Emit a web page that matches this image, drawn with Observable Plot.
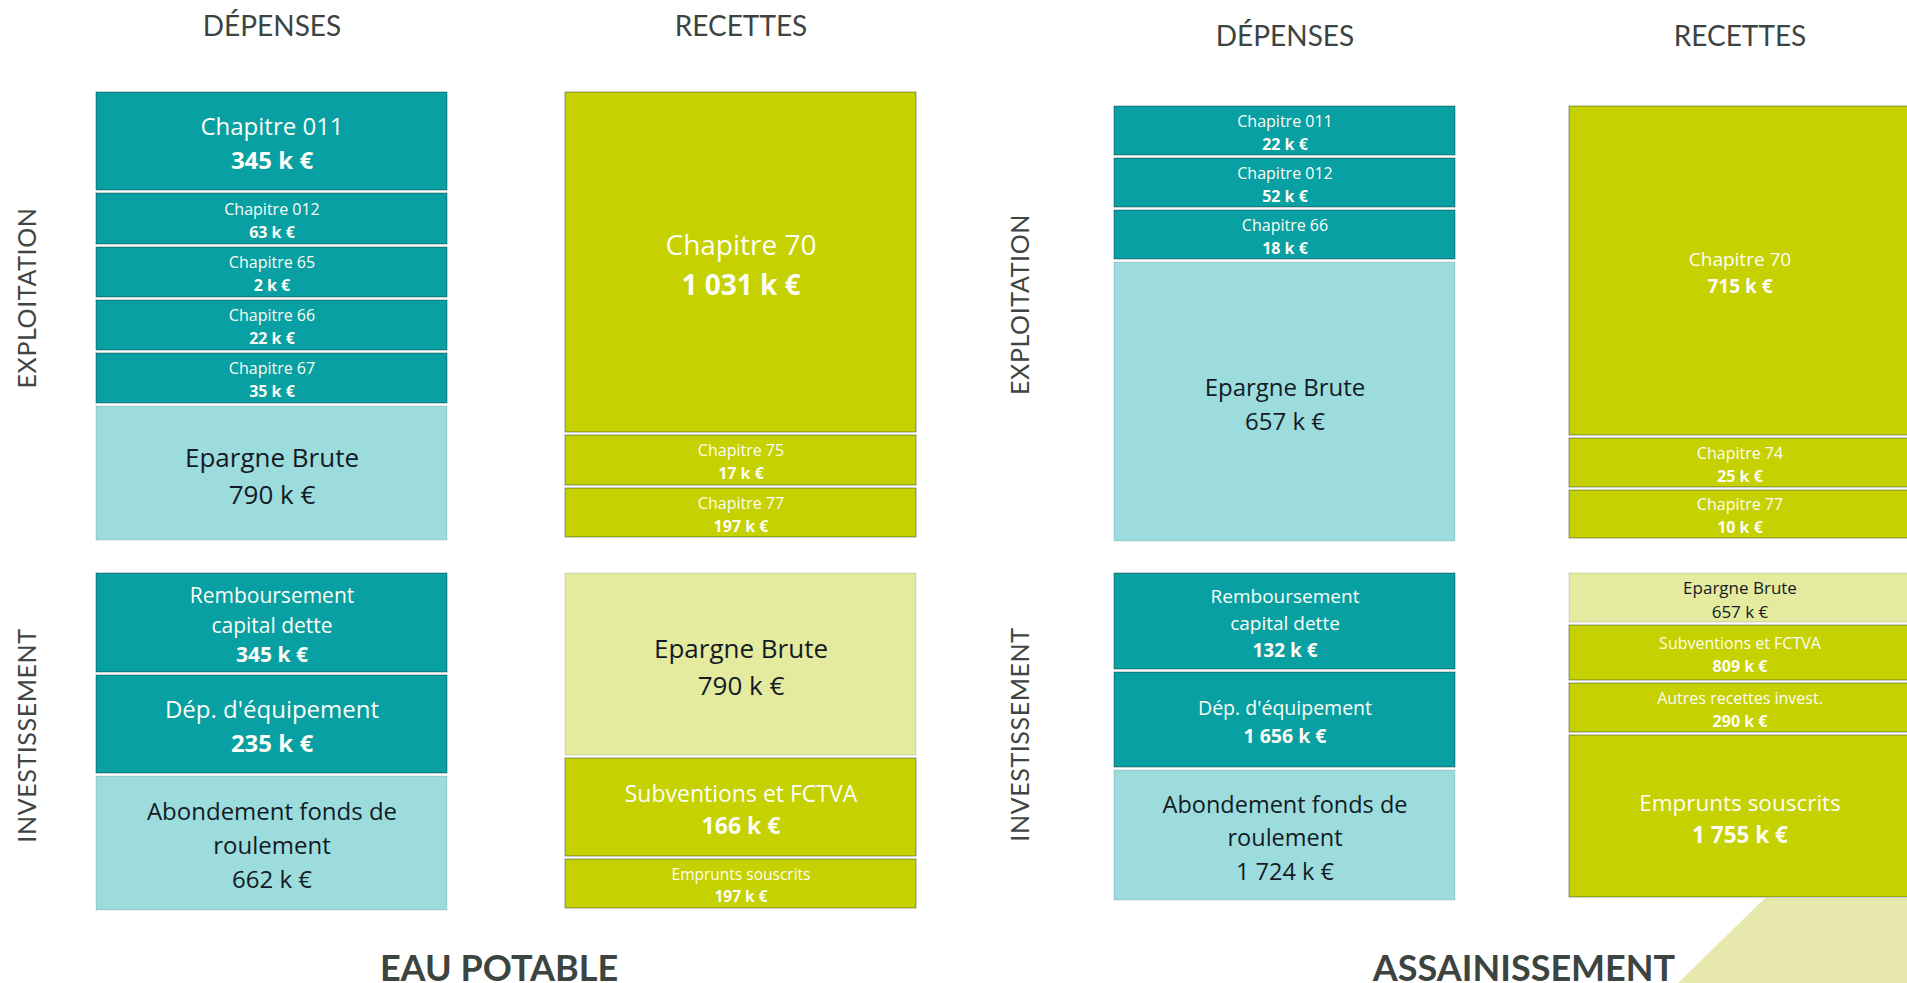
<!DOCTYPE html>
<html>
<head>
<meta charset="utf-8">
<script src="https://cdn.jsdelivr.net/npm/d3@7"></script>
<script src="https://cdn.jsdelivr.net/npm/@observablehq/plot@0.6"></script>
<style>
  html, body { margin: 0; padding: 0; background: #ffffff; overflow: hidden; }
  #stage { position: relative; width: 1907px; height: 983px; overflow: hidden; background: #ffffff; }
  .panel { position: absolute; }
  .panel svg { display: block; max-width: none; background: transparent; }
  .title { position: absolute; width: 600px; text-align: center; font-family: Lato, "DejaVu Sans", sans-serif;
           font-weight: 700; font-size: 36px; line-height: 36px; color: #3c4440; white-space: nowrap; }
  #deco { position: absolute; left: 1678px; top: 898px; width: 232px; height: 85px; background: #e6e9ab;
          clip-path: polygon(87px 0, 100% 0, 100% 100%, 0 100%); }
  .section-label text { letter-spacing: 0.6px; }
</style>
</head>
<body>
<div id="stage">
  <div id="deco"></div>
</div>
<script>
// ------------------------- DATA -------------------------
const budgets  = ["EAU POTABLE", "ASSAINISSEMENT"];
const sections = ["EXPLOITATION", "INVESTISSEMENT"];
const columns  = ["DÉPENSES", "RECETTES"];
// balancing items drawn in the light tone
const balanceItems = ["Epargne Brute", "Abondement fonds de\nroulement"];

// EAU POTABLE
const eauExploitDepLabels = ["Chapitre 011", "Chapitre 012", "Chapitre 65", "Chapitre 66", "Chapitre 67", "Epargne Brute"];
const eauExploitDepValues = [345, 63, 2, 22, 35, 790];
const eauExploitRecLabels = ["Chapitre 70", "Chapitre 75", "Chapitre 77"];
const eauExploitRecValues = [1031, 17, 197];
const eauInvestDepLabels  = ["Remboursement\ncapital dette", "Dép. d'équipement", "Abondement fonds de\nroulement"];
const eauInvestDepValues  = [345, 235, 662];
const eauInvestRecLabels  = ["Epargne Brute", "Subventions et FCTVA", "Emprunts souscrits"];
const eauInvestRecValues  = [790, 166, 197];

// ASSAINISSEMENT
const assExploitDepLabels = ["Chapitre 011", "Chapitre 012", "Chapitre 66", "Epargne Brute"];
const assExploitDepValues = [22, 52, 18, 657];
const assExploitRecLabels = ["Chapitre 70", "Chapitre 74", "Chapitre 77"];
const assExploitRecValues = [715, 25, 10];
const assInvestDepLabels  = ["Remboursement\ncapital dette", "Dép. d'équipement", "Abondement fonds de\nroulement"];
const assInvestDepValues  = [132, 1656, 1724];
const assInvestRecLabels  = ["Epargne Brute", "Subventions et FCTVA", "Autres recettes invest.", "Emprunts souscrits"];
const assInvestRecValues  = [657, 809, 290, 1755];

// ------------------------- LAYOUT (schematic box sizes, not proportional to values) -------------------------
const boxSpans = {
  "EAU POTABLE|EXPLOITATION|DÉPENSES":     [101, 54, 53, 53, 53, 137],
  "EAU POTABLE|EXPLOITATION|RECETTES":     [343, 53, 52],
  "EAU POTABLE|INVESTISSEMENT|DÉPENSES":   [102, 101, 137],
  "EAU POTABLE|INVESTISSEMENT|RECETTES":   [185, 101, 52],
  "ASSAINISSEMENT|EXPLOITATION|DÉPENSES":  [52, 52, 52, 282],
  "ASSAINISSEMENT|EXPLOITATION|RECETTES":  [332, 52, 51],
  "ASSAINISSEMENT|INVESTISSEMENT|DÉPENSES":[99, 98, 133],
  "ASSAINISSEMENT|INVESTISSEMENT|RECETTES":[52, 58, 52, 165]
};
const boxFontSizes = {
  "EAU POTABLE|EXPLOITATION|DÉPENSES":     [24, 16, 16, 16, 16, 26],
  "EAU POTABLE|EXPLOITATION|RECETTES":     [28, 16, 16],
  "EAU POTABLE|INVESTISSEMENT|DÉPENSES":   [21, 24, 24],
  "EAU POTABLE|INVESTISSEMENT|RECETTES":   [26, 23, 15.5],
  "ASSAINISSEMENT|EXPLOITATION|DÉPENSES":  [16, 16, 16, 24],
  "ASSAINISSEMENT|EXPLOITATION|RECETTES":  [19, 16, 16],
  "ASSAINISSEMENT|INVESTISSEMENT|DÉPENSES":[19, 19.5, 23.5],
  "ASSAINISSEMENT|INVESTISSEMENT|RECETTES":[17, 16, 16, 22.5]
};
const panelFrames = [
  {budget: "EAU POTABLE", section: "EXPLOITATION", left: 0, top: 0, width: 950, marginLeft: 96, marginRight: 34, marginTop: 92, padInner: 0.2516, headerPad: 57, labelDx: -69, labelDy: -20},
  {budget: "EAU POTABLE", section: "INVESTISSEMENT", left: 0, top: 573, width: 950, marginLeft: 96, marginRight: 34, marginTop: 0, padInner: 0.2516, labelDx: -69, labelDy: -8},
  {budget: "ASSAINISSEMENT", section: "EXPLOITATION", left: 960, top: 0, width: 950, marginLeft: 154, marginRight: 0, marginTop: 106, padInner: 0.2506, headerPad: 61, labelDx: -94, labelDy: -21},
  {budget: "ASSAINISSEMENT", section: "INVESTISSEMENT", left: 960, top: 573, width: 950, marginLeft: 154, marginRight: 0, marginTop: 0, padInner: 0.2506, labelDx: -94, labelDy: -4}
];
const titleFrames = [
  {budget: "EAU POTABLE", left: 199, top: 949},
  {budget: "ASSAINISSEMENT", left: 1224, top: 949}
];

// ------------------------- STYLE -------------------------
const toneKeys   = ["DÉPENSES|main", "DÉPENSES|solde", "RECETTES|main", "RECETTES|solde"];
const toneColors = ["#08a0a2", "#9ddcdc", "#c5d100", "#e4eb9e"];
const toneBorderOpacity = {main: 0.42, solde: 0.14};
const boxFont = "'Open Sans', 'Noto Sans', 'DejaVu Sans', sans-serif";
const headFont = "Lato, 'DejaVu Sans', sans-serif";

// ------------------------- BUILD -------------------------
const sources = {
  "EAU POTABLE|EXPLOITATION|DÉPENSES":     [eauExploitDepLabels, eauExploitDepValues],
  "EAU POTABLE|EXPLOITATION|RECETTES":     [eauExploitRecLabels, eauExploitRecValues],
  "EAU POTABLE|INVESTISSEMENT|DÉPENSES":   [eauInvestDepLabels, eauInvestDepValues],
  "EAU POTABLE|INVESTISSEMENT|RECETTES":   [eauInvestRecLabels, eauInvestRecValues],
  "ASSAINISSEMENT|EXPLOITATION|DÉPENSES":  [assExploitDepLabels, assExploitDepValues],
  "ASSAINISSEMENT|EXPLOITATION|RECETTES":  [assExploitRecLabels, assExploitRecValues],
  "ASSAINISSEMENT|INVESTISSEMENT|DÉPENSES":[assInvestDepLabels, assInvestDepValues],
  "ASSAINISSEMENT|INVESTISSEMENT|RECETTES":[assInvestRecLabels, assInvestRecValues]
};

const fmt = v => d3.format(",")(v).replace(/,/g, "\u00a0") + "\u00a0k\u00a0€";

function rowsFor(budget, section) {
  const rows = [];
  for (const col of columns) {
    const key = `${budget}|${section}|${col}`;
    const [labels, values] = sources[key];
    labels.forEach((label, i) => rows.push({
      budget, section, col, label, value: values[i],
      tone: balanceItems.includes(label) ? "solde" : "main",
      span: boxSpans[key][i], fs: boxFontSizes[key][i]
    }));
  }
  return rows;
}

const stage = document.getElementById("stage");

for (const f of panelFrames) {
  const rows = rowsFor(f.budget, f.section);
  const total = d3.max(columns, c => d3.sum(rows.filter(r => r.col === c), r => r.span));
  const nLines = d => d.label.split("\n").length;
  const marks = [
    Plot.barY(rows, {
      x: "col", y: "span",
      fill: d => `${d.col}|${d.tone}`,
      stroke: "#0d2020",
      strokeOpacity: d => toneBorderOpacity[d.tone],
      insetBottom: 3
    }),
    Plot.text(rows, Plot.stackY({
      x: "col", y: "span",
      text: d => d.tone === "main" ? d.label + "\n" : "",
      fontSize: d => d.fs, fill: "#fdfdf6", fontWeight: 500, lineHeight: 1.42, dy: -1.5
    })),
    Plot.text(rows, Plot.stackY({
      x: "col", y: "span",
      text: d => d.tone === "main" ? "\n".repeat(nLines(d)) + fmt(d.value) : "",
      fontSize: d => d.fs, fill: "#fdfdf6", fontWeight: 700, lineHeight: 1.42, dy: -1.5
    })),
    Plot.text(rows, Plot.stackY({
      x: "col", y: "span",
      text: d => d.tone === "solde" ? d.label + "\n" + fmt(d.value) : "",
      fontSize: d => d.fs, fill: "#121b25", fontWeight: 500, lineHeight: 1.42, dy: -1.5
    })),
    Plot.text([f.section], {
      text: d => d, frameAnchor: "left", textAnchor: "middle", lineAnchor: "middle", rotate: -90,
      dx: f.labelDx, dy: f.labelDy, className: "section-label",
      fontSize: 25, fontWeight: 400, fontFamily: headFont, fill: "#3f4543"
    })
  ];
  if (f.headerPad != null) {
    marks.push(Plot.axisX({
      anchor: "top", tickSize: 0, tickPadding: f.headerPad, label: null,
      fontSize: 28, fontFamily: headFont, color: "#3c4441"
    }));
  }
  const chart = Plot.plot({
    width: f.width,
    height: f.marginTop + total,
    marginTop: f.marginTop, marginLeft: f.marginLeft, marginRight: f.marginRight, marginBottom: 0,
    style: {fontFamily: boxFont, background: "transparent", overflow: "visible"},
    x: {domain: columns, paddingInner: f.padInner, paddingOuter: 0, label: null, axis: f.headerPad != null ? undefined : null},
    y: {domain: [0, total], reverse: true, axis: null},
    color: {domain: toneKeys, range: toneColors},
    opacity: {domain: [0, 1], range: [0, 1]},
    marks
  });
  const holder = document.createElement("div");
  holder.className = "panel";
  holder.style.left = f.left + "px";
  holder.style.top = f.top + "px";
  holder.appendChild(chart);
  stage.appendChild(holder);
}

for (const t of titleFrames) {
  const div = document.createElement("div");
  div.className = "title";
  div.style.left = t.left + "px";
  div.style.top = t.top + "px";
  div.textContent = t.budget;
  stage.appendChild(div);
}
</script>
</body>
</html>
